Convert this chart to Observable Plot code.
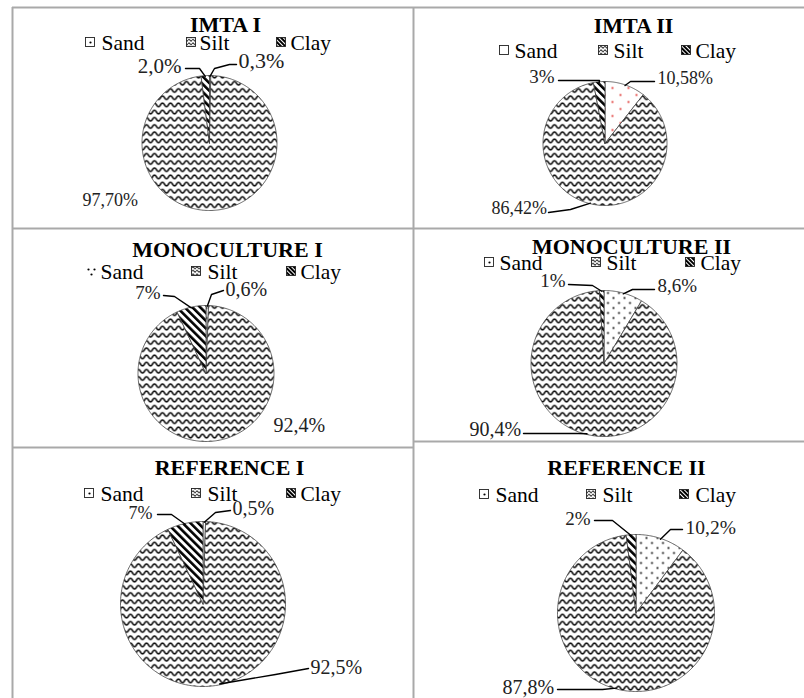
<!DOCTYPE html>
<html>
<head>
<meta charset="utf-8">
<script src="https://cdn.jsdelivr.net/npm/d3@7"></script>
<script src="https://cdn.jsdelivr.net/npm/@observablehq/plot@0.6"></script>
<style>
  html, body { margin: 0; padding: 0; background: #fff; }
  #root { position: relative; width: 804px; height: 698px; overflow: hidden; }
  #root svg text { font-family: "Liberation Serif", "Times New Roman", serif !important; }
</style>
</head>
<body>
<svg width="0" height="0" style="position:absolute">
  <defs>
    <pattern id="silt" width="8" height="7.2" patternUnits="userSpaceOnUse">
      <rect width="8" height="7.2" fill="white"/>
      <path d="M-4,3.6 Q-2,7.2 0,3.6 Q2,0 4,3.6 Q6,7.2 8,3.6 Q10,0 12,3.6" fill="none" stroke="black" stroke-width="1.45"/>
    </pattern>
    <pattern id="clay" width="5.5" height="5.5" patternUnits="userSpaceOnUse" patternTransform="rotate(-45)">
      <rect width="5.5" height="5.5" fill="white"/>
      <rect width="2.6" height="5.5" fill="black"/>
    </pattern>
    <pattern id="sandDots" width="11" height="10" patternUnits="userSpaceOnUse">
      <rect width="11" height="10" fill="white"/>
      <circle cx="2.5" cy="2.5" r="1" fill="black"/>
      <circle cx="8" cy="7.5" r="1" fill="black"/>
    </pattern>
    <pattern id="sandRed" width="16" height="14" patternUnits="userSpaceOnUse">
      <rect width="16" height="14" fill="white"/>
      <circle cx="4" cy="3.5" r="1.1" fill="#e0403c"/>
      <circle cx="12" cy="10.5" r="1.1" fill="#e0403c"/>
    </pattern>
    <pattern id="legSilt" width="4" height="3.5" patternUnits="userSpaceOnUse">
      <rect width="4" height="3.5" fill="white"/>
      <path d="M0,1.75 Q1,0 2,1.75 Q3,3.5 4,1.75" fill="none" stroke="black" stroke-width="0.9"/>
    </pattern>
    <pattern id="legClay" width="3" height="3" patternUnits="userSpaceOnUse" patternTransform="rotate(-45)">
      <rect width="3" height="3" fill="white"/>
      <rect width="2" height="3" fill="black"/>
    </pattern>
  </defs>
</svg>
<div id="root"></div>
<script>
// ---------------- data ----------------
const panelNames = ["IMTA I", "IMTA II", "MONOCULTURE I", "MONOCULTURE II", "REFERENCE I", "REFERENCE II"];
const fractions = ["Sand", "Silt", "Clay"];
const sandPct = [0.3, 10.58, 0.6, 8.6, 0.5, 10.2];
const siltPct = [97.7, 86.42, 92.4, 90.4, 92.5, 87.8];
const clayPct = [2.0, 3, 7, 1, 7, 2];
const sandText = ["0,3%", "10,58%", "0,6%", "8,6%", "0,5%", "10,2%"];
const siltText = ["97,70%", "86,42%", "92,4%", "90,4%", "92,5%", "87,8%"];
const clayText = ["2,0%", "3%", "7%", "1%", "7%", "2%"];

// ---------------- layout (page pixel coordinates) ----------------
const L = [
  { cx: 209, cy: 142.5, r: 67.5, sandPat: "sandDots",
    title: {x: 225, y: 31}, leg: {y: 42, mx: [90, 191, 281], tx: [101, 199, 290], sandMark: "dot"},
    sand: {x: 238, y: 67, a: "start", s: 22, path: [[236, 64], [229, 64], [214, 68]]},
    clay: {x: 181, y: 72, a: "end", s: 21, path: [[185, 68], [199, 68]]},
    silt: {x: 82, y: 205, a: "start", s: 18, path: null} },
  { cx: 604.5, cy: 143, r: 62, sandPat: "sandRed",
    title: {x: 633, y: 32}, leg: {y: 50, mx: [504, 603, 686], tx: [514, 613, 695], sandMark: "empty"},
    sand: {x: 657, y: 83, a: "start", s: 18, path: [[654, 81], [630, 81]]},
    clay: {x: 554, y: 82, a: "end", s: 19, path: [[558, 80], [599, 80]]},
    silt: {x: 491, y: 213, a: "start", s: 18, path: [[548, 212], [570, 209]]} },
  { cx: 205.5, cy: 373, r: 68, sandPat: "sandDots",
    title: {x: 227, y: 256}, leg: {y: 271, mx: [91, 196, 291], tx: [100, 207, 300], sandMark: "dots3"},
    sand: {x: 225, y: 295, a: "start", s: 20, path: [[223, 290], [211, 294]]},
    clay: {x: 160, y: 298, a: "end", s: 19, path: [[163, 295], [174, 296]]},
    silt: {x: 273, y: 431, a: "start", s: 20, path: null} },
  { cx: 603.5, cy: 363, r: 73, sandPat: "sandDots",
    title: {x: 631, y: 253}, leg: {y: 262, mx: [489, 596, 690], tx: [499, 606, 700], sandMark: "dot"},
    sand: {x: 657, y: 291, a: "start", s: 19, path: [[654, 289], [632, 289]]},
    clay: {x: 565, y: 286, a: "end", s: 19, path: [[568, 284], [592, 285]]},
    silt: {x: 469, y: 435, a: "start", s: 20, path: [[523, 433], [578, 433]]} },
  { cx: 202.5, cy: 603.5, r: 82.5, sandPat: "sandDots",
    title: {x: 229, y: 474}, leg: {y: 493, mx: [89, 196, 291], tx: [100, 207, 300], sandMark: "dot"},
    sand: {x: 232, y: 514, a: "start", s: 20, path: [[230, 510], [215, 512]]},
    clay: {x: 152, y: 518, a: "end", s: 18, path: [[157, 514], [171, 514]]},
    silt: {x: 310, y: 673, a: "start", s: 20, path: [[308, 668], [275, 674]]} },
  { cx: 635.5, cy: 612.5, r: 78.5, sandPat: "sandDots",
    title: {x: 626, y: 474}, leg: {y: 494, mx: [484, 591, 684], tx: [495, 602, 695], sandMark: "dot"},
    sand: {x: 685, y: 533, a: "start", s: 19.5, path: [[682, 529], [670, 529]]},
    clay: {x: 590, y: 524, a: "end", s: 19, path: [[594, 520], [612, 520]]},
    silt: {x: 502, y: 693, a: "start", s: 20, path: [[557, 689], [602, 689]]} }
];
const TITLE_SIZE = 22, LEG_SIZE = 21.5;

// ---------------- build mark data ----------------
const pie = d3.pie().sort(null).startAngle(0).endAngle(2 * Math.PI);
const slicePts = [], leaderPts = [], labelsStart = [], labelsEnd = [], titles = [], legText = [], legRects = [], legDots = [];
panelNames.forEach((name, i) => {
  const lay = L[i];
  const vals = [sandPct[i], siltPct[i], clayPct[i]];
  const texts = [sandText[i], siltText[i], clayText[i]];
  const arcs = pie(vals);
  arcs.forEach((a, k) => {
    const key = name + "-" + fractions[k];
    const fill = k === 0 ? `url(#${lay.sandPat})` : k === 1 ? "url(#silt)" : "url(#clay)";
    const n = Math.max(2, Math.ceil((a.endAngle - a.startAngle) / (Math.PI / 180)));
    slicePts.push({key, fill, x: lay.cx, y: lay.cy});
    for (let j = 0; j <= n; j++) {
      const t = a.startAngle + (a.endAngle - a.startAngle) * j / n;
      slicePts.push({key, fill, x: lay.cx + lay.r * Math.sin(t), y: lay.cy - lay.r * Math.cos(t)});
    }
    slicePts.push({key, fill, x: lay.cx, y: lay.cy});
    const lab = lay[["sand", "silt", "clay"][k]];
    const rec = {x: lab.x, y: lab.y, text: texts[k], size: lab.s};
    (lab.a === "end" ? labelsEnd : labelsStart).push(rec);
    if (lab.path) {
      const mid = (a.startAngle + a.endAngle) / 2;
      lab.path.forEach(p => leaderPts.push({key, x: p[0], y: p[1]}));
      leaderPts.push({key, x: lay.cx + lay.r * 0.99 * Math.sin(mid), y: lay.cy - lay.r * 0.99 * Math.cos(mid)});
    }
  });
  titles.push({x: lay.title.x, y: lay.title.y, text: name});
  fractions.forEach((f, k) => {
    legText.push({x: lay.leg.tx[k], y: lay.leg.y + 7, text: f});
    const mx = lay.leg.mx[k], my = lay.leg.y;
    if (k === 0) {
      if (lay.leg.sandMark === "dots3") {
        legDots.push({x: mx - 3, y: my - 2}, {x: mx + 3, y: my - 2}, {x: mx, y: my + 3});
      } else {
        legRects.push({x1: mx - 4.5, x2: mx + 4.5, y1: my - 4.5, y2: my + 4.5, fill: "white"});
        if (lay.leg.sandMark === "dot") legDots.push({x: mx, y: my});
      }
    } else {
      legRects.push({x1: mx - 4.5, x2: mx + 4.5, y1: my - 4.5, y2: my + 4.5, fill: k === 1 ? "url(#legSilt)" : "url(#legClay)"});
    }
  });
});

// table grid (layout)
const hRules = [{y: 7, x1: 12, x2: 804}, {y: 228, x1: 12, x2: 804}, {y: 447, x1: 12, x2: 413}, {y: 441, x1: 413, x2: 804}];
const vRules = [{x: 12, y1: 7, y2: 698}, {x: 413, y1: 7, y2: 698}];

const FONT = "Liberation Serif";
const chart = Plot.plot({
  width: 804, height: 698,
  margin: 0,
  x: {domain: [0, 804], range: [0, 804], axis: null},
  y: {domain: [0, 698], range: [0, 698], axis: null},
  color: {type: "identity"},
  style: {background: "white", fontFamily: FONT},
  marks: [
    Plot.ruleY(hRules, {y: "y", x1: "x1", x2: "x2", stroke: "#a9a9a9", strokeWidth: 2}),
    Plot.ruleX(vRules, {x: "x", y1: "y1", y2: "y2", stroke: "#a9a9a9", strokeWidth: 2}),
    Plot.line(slicePts, {x: "x", y: "y", z: "key", fill: "fill", stroke: "#444", strokeWidth: 0.8, strokeLinejoin: "round"}),
    Plot.line(leaderPts, {x: "x", y: "y", z: "key", stroke: "black", strokeWidth: 1.4, curve: "linear"}),
    Plot.rect(legRects, {x1: "x1", x2: "x2", y1: "y1", y2: "y2", fill: "fill", stroke: "#222", strokeWidth: 0.9}),
    Plot.dot(legDots, {x: "x", y: "y", r: 1.1, fill: "black", stroke: null}),
    Plot.text(titles, {x: "x", y: "y", text: "text", textAnchor: "middle", lineAnchor: "bottom", fontSize: TITLE_SIZE, fontWeight: "bold", fill: "black", fontFamily: FONT}),
    Plot.text(legText, {x: "x", y: "y", text: "text", textAnchor: "start", lineAnchor: "bottom", fontSize: LEG_SIZE, fill: "black", fontFamily: FONT}),
    Plot.text(labelsStart, {x: "x", y: "y", text: "text", textAnchor: "start", lineAnchor: "bottom", fontSize: "size", fill: "#222", fontFamily: FONT}),
    Plot.text(labelsEnd, {x: "x", y: "y", text: "text", textAnchor: "end", lineAnchor: "bottom", fontSize: "size", fill: "#222", fontFamily: FONT})
  ]
});
document.getElementById("root").appendChild(chart);
</script>
</body>
</html>
